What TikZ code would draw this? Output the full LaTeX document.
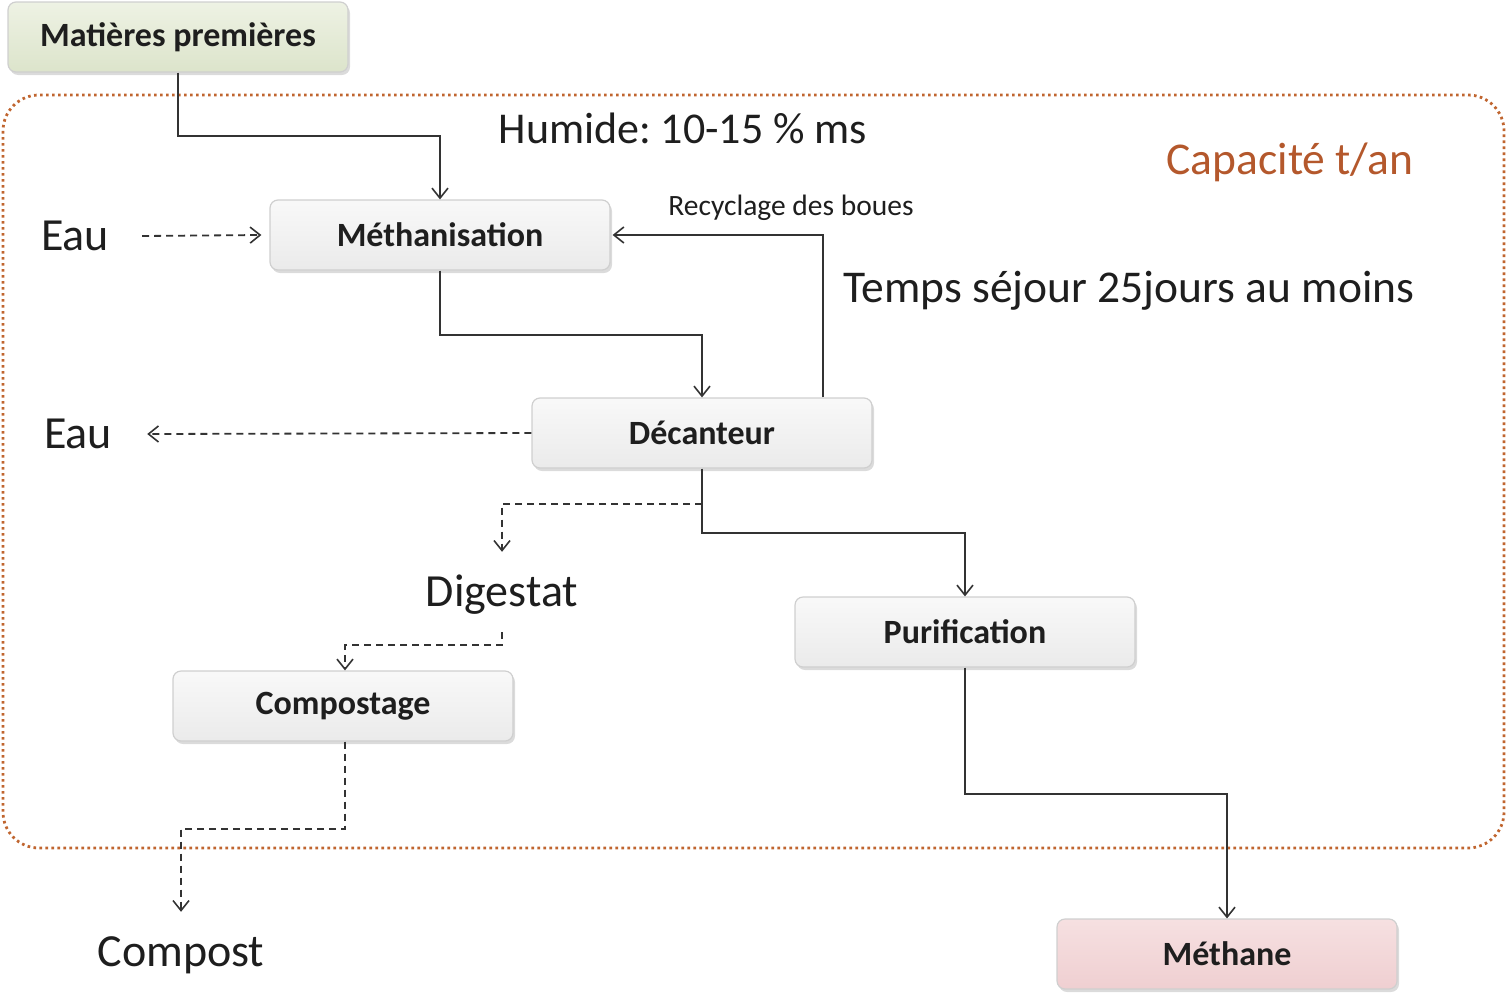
\documentclass[tikz,border=0pt]{standalone}
\usepackage{fontspec}
\setmainfont{Carlito}
\usetikzlibrary{arrows.meta,shadows,calc}
\definecolor{ink}{HTML}{1E1E1E}
\definecolor{wire}{HTML}{333333}
\definecolor{rust}{HTML}{B4582C}
\definecolor{dots}{HTML}{C0652F}
\definecolor{boxedge}{HTML}{CFCFCF}
\definecolor{greentop}{HTML}{EEF2E4}
\definecolor{greenbot}{HTML}{DCE4CB}
\definecolor{pinktop}{HTML}{F6E0E1}
\definecolor{pinkbot}{HTML}{EFCFD1}
\tikzset{
  proc/.style={rounded corners=8pt, minimum width=340pt, minimum height=70pt,
    inner sep=0pt, draw=boxedge, line width=1.2pt,
    top color=gray!5, bottom color=gray!16, text=ink,
    font=\fontsize{34}{38}\selectfont\bfseries,
    drop shadow={shadow xshift=2pt, shadow yshift=-3pt, opacity=0.35, fill=gray!80}},
  rawbox/.style={proc, top color=greentop, bottom color=greenbot},
  outbox/.style={proc, top color=pinktop, bottom color=pinkbot},
  lbl/.style={inner sep=0pt, text=ink, font=\fontsize{46}{52}\selectfont},
  conn/.style={draw=wire, line width=1.8pt,
    -{Straight Barb[length=10pt, width=16pt, line width=1.6pt]}},
  dconn/.style={conn, dash pattern=on 7pt off 5pt},
  container/.style={draw=dots, line width=2.8pt, rounded corners=36pt,
    dash pattern=on 2.6pt off 3.4pt}
}
\begin{document}
\begin{tikzpicture}[x=1pt, y=-1pt]
\useasboundingbox (0,0) rectangle (1506,996);

% process boundary
\draw[container] (3,95) rectangle (1504,848);

% process boxes
\node[rawbox] (mp)   at (178,37)   {Matières premières};
\node[proc]   (meth) at (440,235)  {Méthanisation};
\node[proc]   (dec)  at (702,433)  {Décanteur};
\node[proc]   (pur)  at (965,632)  {Purification};
\node[proc]   (comp) at (343,706)  {Compostage};
\node[outbox] (ch4)  at (1227,954) {Méthane};

% free labels
\node[lbl, font=\fontsize{44}{50}\selectfont] (hum) at (683,128) {Humide:\hspace{-4pt} 10-15 \% ms};
\node[lbl, text=rust, font=\fontsize{45.5}{50}\selectfont] (cap) at (1290,162) {Capacité t/an};
\node[lbl, font=\fontsize{45.5}{50}\selectfont] (tps) at (1129,291) {Temps séjour 25jours au moins};
\node[lbl, font=\fontsize{29.5}{34}\selectfont] (rec) at (791,208) {Recyclage des boues};
\node[lbl, minimum width=134pt] (eau1) at (75,236) {Eau};
\node[lbl, minimum width=138pt] (eau2) at (78,434) {Eau};
\node[lbl, minimum height=80pt] (dig) at (502,595) {Digestat};
\node[lbl, minimum height=82pt] (cpst) at (181,955) {Compost};

% main flow
\draw[conn] (mp.south) -- ++(0,63) -| (meth.north);
\draw[dconn] (eau1.east) -- ([xshift=-8pt]meth.west);
\draw[conn] (meth.south) -- ++(0,64) -| (dec.north);
\draw[conn] ([xshift=121pt]dec.north) |- ([xshift=2pt]meth.east);
\draw[dconn] (dec.west) -- (eau2.east);
\draw[conn] (dec.south) -- ++(0,64) -| (pur.north);
\draw[conn] (pur.south) -- ++(0,126) -| (ch4.north);

% solids route
\draw[dconn] ([yshift=-35pt]dec.south) -| ([yshift=3pt]dig.north);
\draw[dconn] ([yshift=3pt]dig.south) -- ++(0,13) -| ([xshift=2pt]comp.north);
\draw[dconn] ([xshift=2pt]comp.south) -- ++(0,87) -| ([yshift=2pt]cpst.north);
\end{tikzpicture}
\end{document}
